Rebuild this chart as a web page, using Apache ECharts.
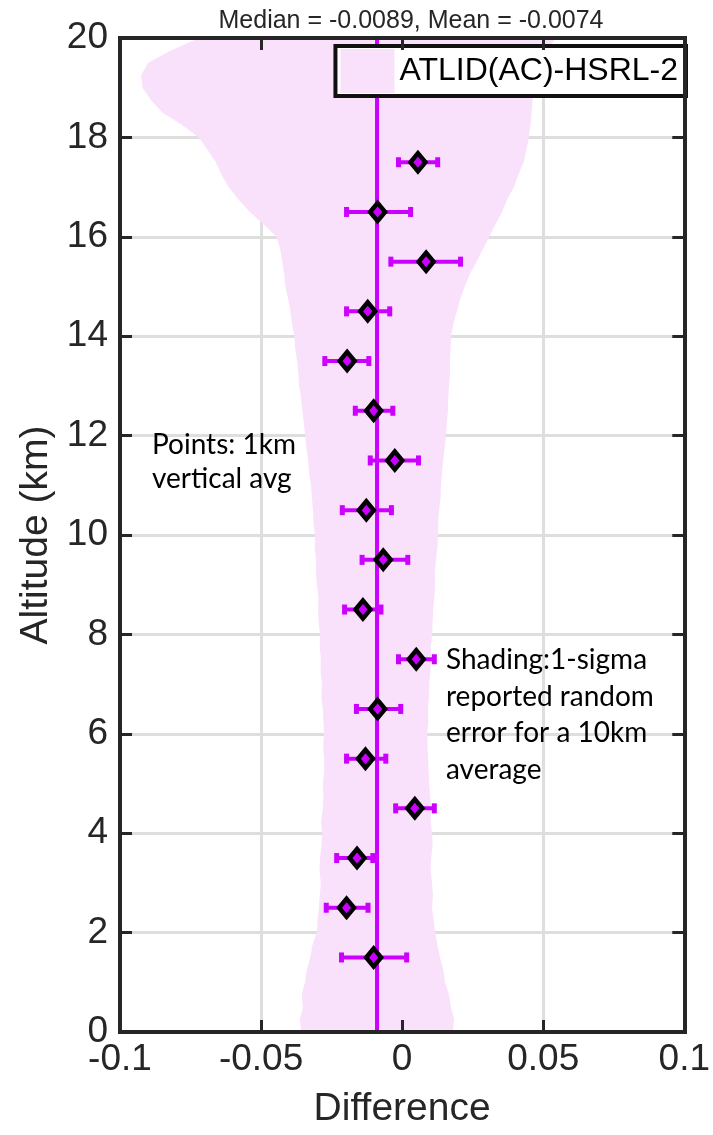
<!DOCTYPE html>
<html>
<head>
<meta charset="utf-8">
<script src="https://cdn.jsdelivr.net/npm/echarts@6/dist/echarts.min.js"></script>
<style>
  html, body { margin: 0; padding: 0; background: #ffffff; }
  #chart { width: 713px; height: 1135px; }
</style>
</head>
<body>
<div id="chart"></div>
<script>
// Summary statistics of the difference profile
const medianDiff = -0.0089;
const meanDiff = -0.0074;

// 1 km vertical averages: altitude (km), mean difference and error-bar bounds
const binAltitude = [1.5, 2.5, 3.5, 4.5, 5.5, 6.5, 7.5, 8.5, 9.5, 10.5, 11.5, 12.5, 13.5, 14.5, 15.5, 16.5, 17.5];
const binMean  = [-0.0101, -0.0197, -0.0160, 0.0045, -0.0130, -0.0087, 0.0050, -0.0139, -0.0067, -0.0127, -0.0026, -0.0101, -0.0195, -0.0122, 0.0085, -0.0087, 0.0056];
const binLower = [-0.0215, -0.0269, -0.0232, -0.0023, -0.0197, -0.0162, -0.0013, -0.0204, -0.0142, -0.0212, -0.0113, -0.0166, -0.0274, -0.0197, -0.0040, -0.0197, -0.0013];
const binUpper = [0.0016, -0.0121, -0.0104, 0.0114, -0.0058, -0.0005, 0.0114, -0.0075, 0.0020, -0.0038, 0.0058, -0.0033, -0.0118, -0.0044, 0.0207, 0.0030, 0.0126];

// 1-sigma random error envelope (10 km average), sampled every 0.25 km from 0 to 20 km
const envAltitude = [
  0, 0.25, 0.5, 0.75, 1, 1.25, 1.5, 1.75, 2, 2.25, 2.5, 2.75, 3, 3.25, 3.5, 3.75, 4, 4.25, 4.5, 4.75,
  5, 5.25, 5.5, 5.75, 6, 6.25, 6.5, 6.75, 7, 7.25, 7.5, 7.75, 8, 8.25, 8.5, 8.75, 9, 9.25, 9.5, 9.75,
  10, 10.25, 10.5, 10.75, 11, 11.25, 11.5, 11.75, 12, 12.25, 12.5, 12.75, 13, 13.25, 13.5, 13.75, 14, 14.25, 14.5, 14.75,
  15, 15.25, 15.5, 15.75, 16, 16.25, 16.5, 16.75, 17, 17.25, 17.5, 17.75, 18, 18.25, 18.5, 18.75, 19, 19.25, 19.5, 19.75, 20
];
const envLeft = [
  -0.0358, -0.0362, -0.0352, -0.0356, -0.0344, -0.0338, -0.0326, -0.0318, -0.0302, -0.0300,
  -0.0295, -0.0292, -0.0288, -0.0293, -0.0291, -0.0286, -0.0284, -0.0287, -0.0281, -0.0279,
  -0.0281, -0.0276, -0.0277, -0.0280, -0.0277, -0.0279, -0.0281, -0.0286, -0.0284, -0.0289,
  -0.0288, -0.0292, -0.0291, -0.0296, -0.0298, -0.0297, -0.0302, -0.0306, -0.0305, -0.0310,
  -0.0309, -0.0314, -0.0316, -0.0320, -0.0323, -0.0330, -0.0333, -0.0339, -0.0344, -0.0348,
  -0.0354, -0.0358, -0.0365, -0.0368, -0.0372, -0.0379, -0.0382, -0.0390, -0.0396, -0.0404,
  -0.0414, -0.0418, -0.0425, -0.0432, -0.0445, -0.0490, -0.0540, -0.0580, -0.0615, -0.0640,
  -0.0660, -0.0690, -0.0720, -0.0780, -0.0850, -0.0890, -0.0920, -0.0925, -0.0900, -0.0820, -0.0720
];
const envRight = [
  0.0180, 0.0184, 0.0173, 0.0166, 0.0152, 0.0146, 0.0134, 0.0125, 0.0117, 0.0112,
  0.0106, 0.0109, 0.0106, 0.0101, 0.0103, 0.0108, 0.0106, 0.0101, 0.0103, 0.0099,
  0.0096, 0.0094, 0.0092, 0.0090, 0.0089, 0.0093, 0.0092, 0.0095, 0.0096, 0.0100,
  0.0103, 0.0102, 0.0106, 0.0108, 0.0110, 0.0114, 0.0117, 0.0116, 0.0120, 0.0125,
  0.0127, 0.0128, 0.0131, 0.0136, 0.0138, 0.0141, 0.0145, 0.0151, 0.0155, 0.0158,
  0.0162, 0.0163, 0.0166, 0.0170, 0.0169, 0.0172, 0.0173, 0.0182, 0.0194, 0.0206,
  0.0222, 0.0240, 0.0264, 0.0286, 0.0309, 0.0330, 0.0354, 0.0372, 0.0396, 0.0412,
  0.0431, 0.0440, 0.0449, 0.0455, 0.0459, 0.0462, 0.0466, 0.0470, 0.0484, 0.0510, 0.0546
];

const seriesName = 'ATLID(AC)-HSRL-2';
const MAGENTA = '#cc00ff';
const SHADE = '#f9e0fb';
const INK = '#262626';
const FONT = 'Liberation Sans, Arial, Helvetica, sans-serif';

const chart = echarts.init(document.getElementById('chart'), null, { renderer: 'canvas' });

const xRange = { type: 'value', min: -0.1, max: 0.1, interval: 0.05 };
const yRange = { type: 'value', min: 0, max: 20, interval: 2 };
const frameLine = { show: true, onZero: false, lineStyle: { color: INK, width: 4, cap: 'square' } };
const frameTick = { show: true, inside: true, length: 12, lineStyle: { color: INK, width: 3 } };

const option = {
  animation: false,
  backgroundColor: '#ffffff',
  title: {
    text: 'Median = ' + medianDiff.toFixed(4) + ', Mean = ' + meanDiff.toFixed(4),
    left: 406, top: 4, textAlign: 'center',
    textStyle: { fontFamily: FONT, fontSize: 25, fontWeight: 'normal', color: INK }
  },
  legend: {
    data: [{ name: seriesName, icon: 'rect', itemStyle: { color: SHADE, borderWidth: 0 } }],
    right: 27, top: 46,
    itemWidth: 54, itemHeight: 44, itemGap: 0,
    padding: [3, 8, 3, 5],
    backgroundColor: '#ffffff',
    borderColor: '#111111', borderWidth: 4, borderRadius: 0,
    textStyle: { fontFamily: FONT, fontSize: 32, color: '#000000', padding: [0, 0, 0, 0] },
    selectedMode: false
  },
  grid: { left: 120, top: 38, width: 573, height: 994, containLabel: false },
  xAxis: [
    Object.assign({}, xRange, {
      position: 'bottom', z: 0,
      name: 'Difference', nameLocation: 'middle', nameGap: 58,
      nameTextStyle: { fontFamily: FONT, fontSize: 39, color: INK },
      axisLine: { show: false }, axisTick: { show: false },
      axisLabel: { fontFamily: FONT, fontSize: 37, color: INK, margin: 9 },
      splitLine: { show: true, lineStyle: { color: '#dedede', width: 3 } }
    }),
    Object.assign({}, xRange, {
      position: 'bottom', z: 10, axisLine: frameLine, axisTick: frameTick,
      axisLabel: { show: false }, splitLine: { show: false }
    }),
    Object.assign({}, xRange, {
      position: 'top', z: 10, axisLine: frameLine, axisTick: frameTick,
      axisLabel: { show: false }, splitLine: { show: false }
    })
  ],
  yAxis: [
    Object.assign({}, yRange, {
      position: 'left', z: 0,
      name: 'Altitude (km)', nameLocation: 'middle', nameGap: 54,
      nameTextStyle: { fontFamily: FONT, fontSize: 39, color: INK },
      axisLine: { show: false }, axisTick: { show: false },
      axisLabel: { fontFamily: FONT, fontSize: 37, color: INK, margin: 12 },
      splitLine: { show: true, lineStyle: { color: '#dedede', width: 3 } }
    }),
    Object.assign({}, yRange, {
      position: 'left', z: 10, axisLine: frameLine, axisTick: frameTick,
      axisLabel: { show: false }, splitLine: { show: false }
    }),
    Object.assign({}, yRange, {
      position: 'right', z: 10, axisLine: frameLine, axisTick: frameTick,
      axisLabel: { show: false }, splitLine: { show: false }
    })
  ],
  series: [
    {
      // random-error envelope polygon: left edge upward, right edge back down
      name: seriesName,
      type: 'custom',
      xAxisIndex: 0, yAxisIndex: 0,
      clip: true, z: 1, silent: true,
      itemStyle: { color: SHADE },
      data: [[0, 0]],
      renderItem: function (params, api) {
        const pts = [];
        for (let i = 0; i < envAltitude.length; i++) pts.push(api.coord([envLeft[i], envAltitude[i]]));
        for (let i = envAltitude.length - 1; i >= 0; i--) pts.push(api.coord([envRight[i], envAltitude[i]]));
        return { type: 'polygon', shape: { points: pts }, style: { fill: SHADE, stroke: null } };
      }
    },
    {
      name: 'median',
      type: 'line',
      xAxisIndex: 0, yAxisIndex: 0, z: 2,
      showSymbol: false, symbol: 'none', silent: true,
      lineStyle: { color: MAGENTA, width: 4 },
      data: [[medianDiff, 0], [medianDiff, 20]]
    },
    {
      name: 'errorbars',
      type: 'custom',
      xAxisIndex: 0, yAxisIndex: 0, z: 3, silent: true,
      data: binAltitude.map((a, i) => [binLower[i], binUpper[i], a]),
      renderItem: function (params, api) {
        const lo = api.coord([api.value(0), api.value(2)]);
        const hi = api.coord([api.value(1), api.value(2)]);
        const cap = 5;
        const bar = { stroke: MAGENTA, lineWidth: 4 };
        const capStyle = { stroke: MAGENTA, lineWidth: 5 };
        return {
          type: 'group',
          children: [
            { type: 'line', shape: { x1: lo[0], y1: lo[1], x2: hi[0], y2: hi[1] }, style: bar },
            { type: 'line', shape: { x1: lo[0], y1: lo[1] - cap, x2: lo[0], y2: lo[1] + cap }, style: capStyle },
            { type: 'line', shape: { x1: hi[0], y1: hi[1] - cap, x2: hi[0], y2: hi[1] + cap }, style: capStyle }
          ]
        };
      }
    },
    {
      name: 'points',
      type: 'scatter',
      xAxisIndex: 0, yAxisIndex: 0, z: 4, silent: true,
      symbol: 'diamond', symbolSize: [15, 18],
      itemStyle: { color: MAGENTA, borderColor: '#000000', borderWidth: 4.5, opacity: 1 },
      data: binAltitude.map((a, i) => [binMean[i], a])
    }
  ],
  graphic: [
    {
      type: 'text', left: 152, top: 428, z: 20,
      style: {
        text: 'Points: 1km\nvertical avg',
        font: '28px Lato, "Open Sans", sans-serif', fill: '#000000', lineHeight: 34
      }
    },
    {
      type: 'text', left: 446, top: 642, z: 20,
      style: {
        text: 'Shading:1-sigma\nreported random\nerror for a 10km\naverage',
        font: '28px Lato, "Open Sans", sans-serif', fill: '#000000', lineHeight: 36.5
      }
    }
  ]
};

chart.setOption(option);
</script>
</body>
</html>
